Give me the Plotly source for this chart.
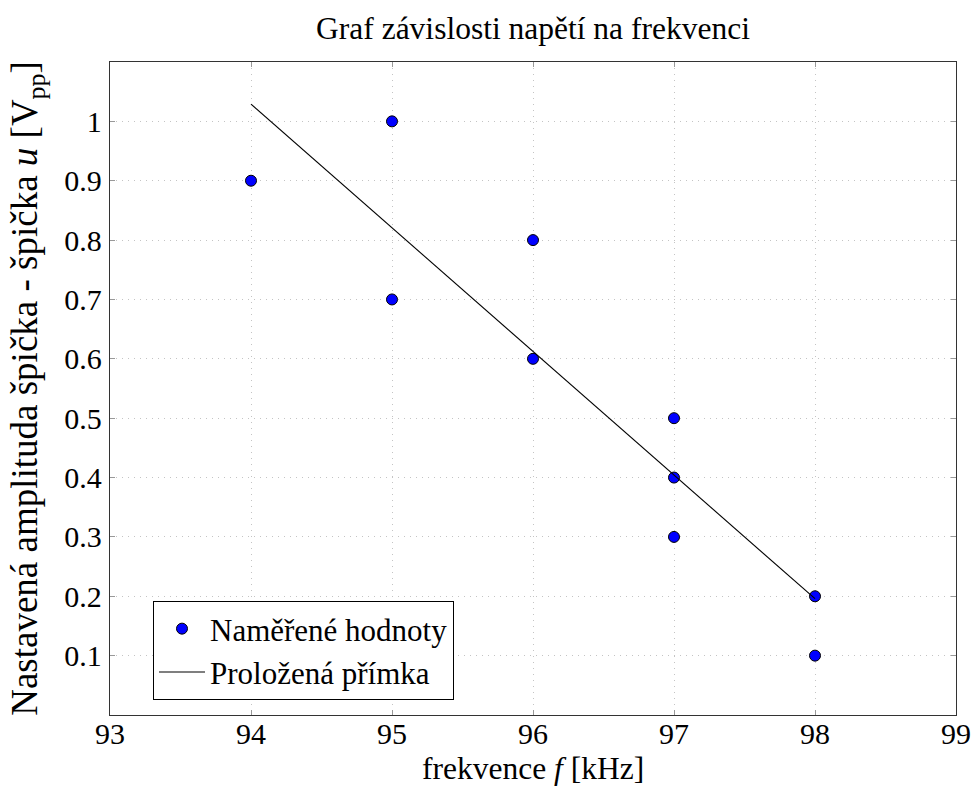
import plotly.graph_objects as go

# measured data
freq_khz = [94, 95, 95, 96, 96, 97, 97, 97, 98, 98]
voltage_vpp = [0.9, 1.0, 0.7, 0.8, 0.6, 0.5, 0.4, 0.3, 0.2, 0.1]

# fitted line
fit_x = [94, 95, 96, 97, 98]
fit_y = [1.029, 0.821, 0.613, 0.404, 0.196]

x_ticks = [93, 94, 95, 96, 97, 98, 99]
y_ticks = [0.1, 0.2, 0.3, 0.4, 0.5, 0.6, 0.7, 0.8, 0.9, 1.0]
y_tick_labels = ["0.1", "0.2", "0.3", "0.4", "0.5", "0.6", "0.7", "0.8", "0.9", "1"]

FONT = "Liberation Serif"
W, H = 972, 791
ML, MR, MT, MB = 110, 16, 62, 76
PH = H - MT - MB

fig = go.Figure()
fig.add_trace(go.Scatter(
    x=freq_khz, y=voltage_vpp, mode="markers", name="Naměřené hodnoty",
    marker=dict(size=11, color="#0000ff", line=dict(color="black", width=1)),
))
fig.add_trace(go.Scatter(
    x=fit_x, y=fit_y, mode="lines", name="Proložená přímka",
    line=dict(color="black", width=1.1),
))

axis_common = dict(
    showline=True, linecolor="#333333", linewidth=1.3, mirror="ticks",
    ticks="inside", ticklen=5, tickcolor="#999999", tickwidth=1,
    showgrid=True, gridcolor="#c4c4c4", griddash="1px,5px", gridwidth=1,
    zeroline=False, automargin=False,
    tickfont=dict(family=FONT, size=30, color="black"),
)

fig.update_xaxes(range=[93, 99], tickvals=x_ticks, ticklabelstandoff=-8, **axis_common)
fig.update_yaxes(
    range=[0, 1.1], tickvals=y_ticks, ticktext=y_tick_labels, ticklabelstandoff=1,
    title=dict(text="Nastavená amplituda špička - špička <i>u</i> [V<sub>pp</sub>]",
               font=dict(family=FONT, size=37, color="black"), standoff=15),
    **axis_common,
)

fig.add_annotation(
    text="frekvence <i>f</i> [kHz]", xref="paper", yref="paper",
    x=0.5, y=-(768 - (H - MB)) / PH, xanchor="center", yanchor="middle",
    showarrow=False, font=dict(family=FONT, size=31.5, color="black"),
)

fig.update_layout(
    width=W, height=H,
    margin=dict(l=ML, r=MR, t=MT, b=MB),
    plot_bgcolor="white", paper_bgcolor="white",
    font=dict(family=FONT, color="black"),
    title=dict(text="Graf závislosti napětí na frekvenci", x=0.5, xref="paper",
               y=1 - 28 / H, yref="container", yanchor="middle", xanchor="center",
               font=dict(family=FONT, size=31.5, color="black")),
    legend=dict(x=(153 - ML) / (W - ML - MR), y=((H - MB) - 601) / PH,
                xanchor="left", yanchor="top",
                bordercolor="black", borderwidth=1, bgcolor="white",
                font=dict(family=FONT, size=31, color="black"),
                tracegroupgap=0, itemwidth=46),
    showlegend=True,
)

fig.write_html(
    "out.html",
    config={"displayModeBar": False},
    post_script="document.body.style.margin='0';document.body.style.overflow='hidden';",
)
